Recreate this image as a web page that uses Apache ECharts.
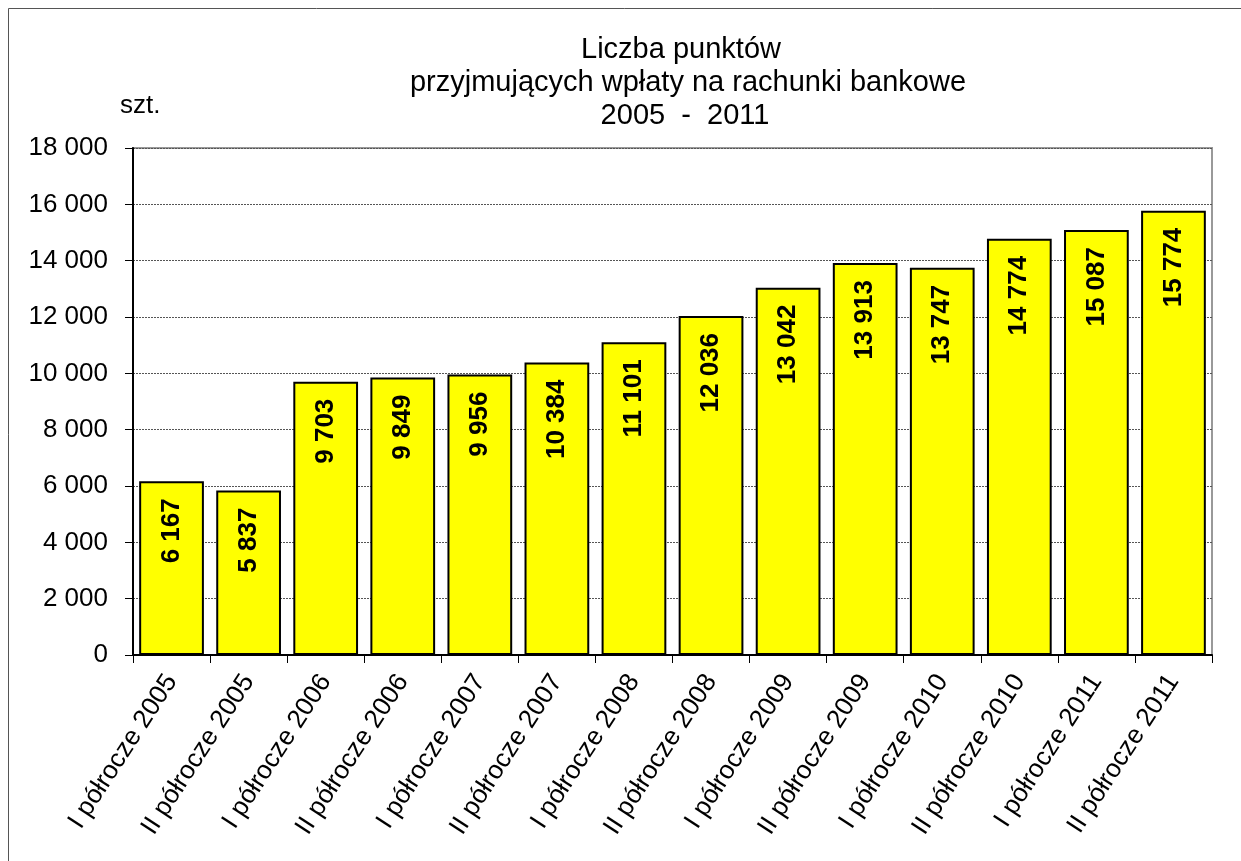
<!DOCTYPE html>
<html>
<head>
<meta charset="utf-8">
<script src="https://cdn.jsdelivr.net/npm/echarts@6/dist/echarts.min.js"></script>
<style>
  html, body { margin: 0; padding: 0; background: #fff; }
  #chart { width: 1241px; height: 861px; }
</style>
</head>
<body>
<div id="chart"></div>
<script>
// Half-year periods
const categories = [
  'I półrocze 2005', 'II półrocze 2005',
  'I półrocze 2006', 'II półrocze 2006',
  'I półrocze 2007', 'II półrocze 2007',
  'I półrocze 2008', 'II półrocze 2008',
  'I półrocze 2009', 'II półrocze 2009',
  'I półrocze 2010', 'II półrocze 2010',
  'I półrocze 2011', 'II półrocze 2011'
];
// Number of points accepting payments to bank accounts
const values = [6167, 5837, 9703, 9849, 9956, 10384, 11101, 12036, 13042, 13913, 13747, 14774, 15087, 15774];
const titleLines = ['Liczba punktów', 'przyjmujących wpłaty na rachunki bankowe', '2005  -  2011'];
const unitLabel = 'szt.';

const FONT = '"Liberation Sans", Arial, sans-serif';
const fmt = v => String(v).replace(/\B(?=(\d{3})+(?!\d))/g, ' ');

// each title line is centred on its own
const titleCenters = [676, 683, 680];
const titles = titleLines.map((t, i) => ({
  text: t,
  left: titleCenters[i],
  textAlign: 'center',
  top: 28 + i * 33,
  textStyle: { fontFamily: FONT, fontSize: 29, fontWeight: 'normal', color: '#000', lineHeight: 33 }
}));

const chart = echarts.init(document.getElementById('chart'), null, { renderer: 'canvas' });
chart.setOption({
  animation: false,
  backgroundColor: '#fff',
  textStyle: { fontFamily: FONT },
  title: titles,
  graphic: [
    { type: 'line', shape: { x1: 8.5, y1: 8.5, x2: 8.5, y2: 861 }, style: { stroke: '#555', lineWidth: 1 } },
    { type: 'line', shape: { x1: 8.5, y1: 8.5, x2: 1241, y2: 8.5 }, style: { stroke: '#555', lineWidth: 1 } },
    { type: 'text', x: 120, y: 106, style: { text: unitLabel, font: '26px ' + FONT, fill: '#000', verticalAlign: 'middle' } }
  ],
  grid: {
    left: 133, right: 29, top: 148, bottom: 206,
    show: true, borderColor: '#999', borderWidth: 2, backgroundColor: 'transparent'
  },
  xAxis: {
    type: 'category',
    data: categories,
    axisLine: { lineStyle: { color: '#000', width: 2 } },
    axisTick: { show: true, alignWithLabel: false, length: 8, lineStyle: { color: '#000', width: 1 } },
    axisLabel: { rotate: 57, fontSize: 26, color: '#000', fontFamily: FONT, margin: 22, interval: 0 }
  },
  yAxis: {
    type: 'value',
    min: 0, max: 18000, interval: 2000,
    axisLine: { show: true, lineStyle: { color: '#000', width: 2 } },
    axisTick: { show: true, length: 8, lineStyle: { color: '#000', width: 1 } },
    axisLabel: { fontSize: 26, color: '#000', fontFamily: FONT, margin: 25, formatter: v => fmt(v) },
    splitLine: { show: true, lineStyle: { color: '#555', type: [2, 1], width: 1 } }
  },
  series: [{
    type: 'bar',
    data: values,
    barCategoryGap: '16%',
    itemStyle: { color: '#FFFF00', borderColor: '#000', borderWidth: 2 },
    label: {
      show: true,
      position: 'insideTop',
      rotate: 90,
      align: 'right',
      verticalAlign: 'middle',
      distance: 17,
      fontSize: 26,
      fontWeight: 'bold',
      color: '#000',
      fontFamily: FONT,
      formatter: p => fmt(p.value)
    }
  }]
});
</script>
</body>
</html>
